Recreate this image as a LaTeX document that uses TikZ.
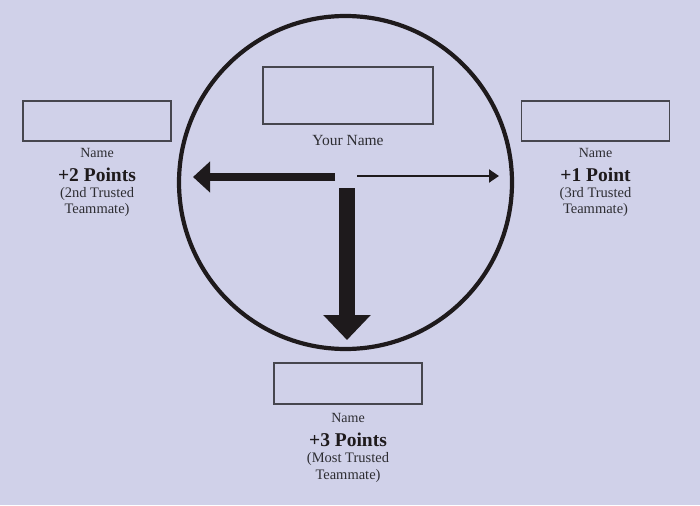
\documentclass[tikz,border=0pt]{standalone}
\usepackage{fontspec}
\setmainfont{Liberation Serif}
\usetikzlibrary{arrows.meta}

\definecolor{fond}{RGB}{208,209,233}
\definecolor{encre}{RGB}{30,26,28}
\definecolor{texte}{RGB}{45,45,50}
\definecolor{cadre}{RGB}{70,70,78}

\tikzset{
  casenom/.style={draw=cadre, line width=1.2pt, inner sep=0pt},
  nom/.style={text=texte, inner sep=0pt, font=\fontsize{14}{16}\selectfont},
  points/.style={text=encre, inner sep=0pt, font=\fontsize{19.5}{22}\selectfont\bfseries},
  detail/.style={text=texte, inner sep=0pt, font=\fontsize{14.5}{16}\selectfont},
}

\begin{document}
\begin{tikzpicture}[x=1pt,y=-1pt]

% Fond
\fill[fond] (0,0) rectangle (700,505);
\useasboundingbox (0,0) rectangle (700,505);

% Cercle
\draw[encre, line width=4.2pt] (345.5,182.5) circle (166.5pt);

% Cases
\node[casenom, minimum width=170pt, minimum height=57pt] (moi) at (348,95.5) {};
\node[casenom, minimum width=148pt, minimum height=40pt] (deux) at (97,121) {};
\node[casenom, minimum width=148pt, minimum height=40pt] (un) at (595.5,121) {};
\node[casenom, minimum width=148pt, minimum height=41pt] (trois) at (348,383.5) {};

% Textes
\node[nom, font=\fontsize{15.5}{17}\selectfont] (moiNom) at (348,141) {Your Name};

\node[nom] (deuxNom) at (97,153) {Name};
\node[points] (deuxPts) at (97,175) {+2 Points};
\node[detail] (deuxA) at (97,194) {(2nd Trusted};
\node[detail] (deuxB) at (97,210) {Teammate)};

\node[nom] (unNom) at (595.5,153) {Name};
\node[points] (unPts) at (595.5,175) {+1 Point};
\node[detail] (unA) at (595.5,194) {(3rd Trusted};
\node[detail] (unB) at (595.5,210) {Teammate)};

\node[nom] (troisNom) at (348,418) {Name};
\node[points] (troisPts) at (348,440) {+3 Points};
\node[detail] (troisA) at (348,459) {(Most Trusted};
\node[detail] (troisB) at (348,476) {Teammate)};

% Flèches
\coordinate (departG) at (335,177);
\coordinate (boutG) at (193,177);
\coordinate (departD) at (357,176);
\coordinate (boutD) at (499,176);
\coordinate (departB) at (347,188);
\coordinate (boutB) at (347,340);

\draw[encre, line width=8pt, -{Triangle[length=17pt,width=30pt]}] (departG) -- (boutG);
\draw[encre, line width=2pt, -{Triangle[length=10pt,width=13pt]}] (departD) -- (boutD);
\draw[encre, line width=16pt, -{Triangle[length=25pt,width=46pt]}] (departB) -- (boutB);

\end{tikzpicture}
\end{document}
